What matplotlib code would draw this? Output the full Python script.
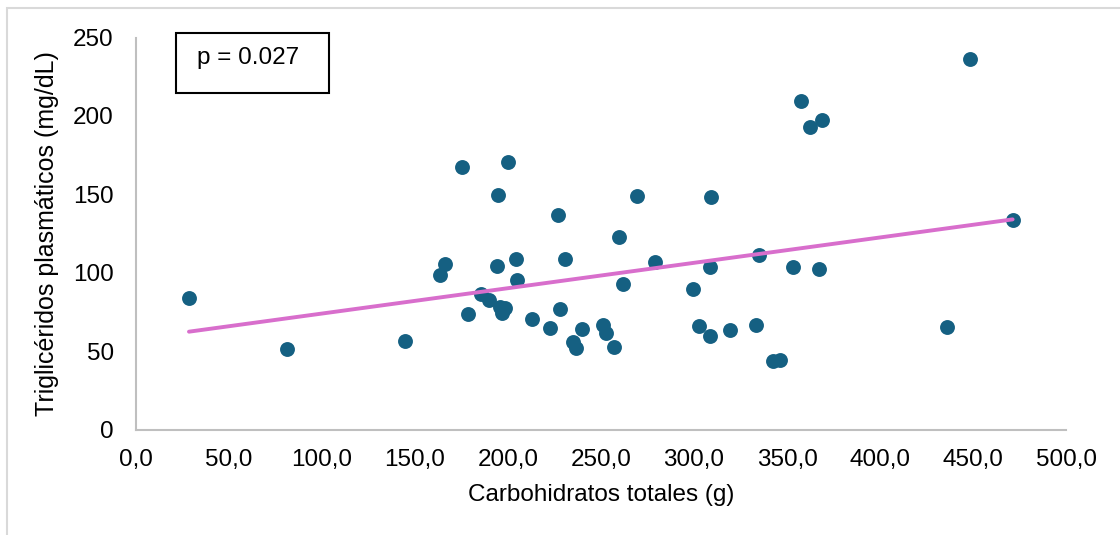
import numpy as np
import matplotlib as mpl
mpl.use("Agg")
import matplotlib.pyplot as plt
from matplotlib.patches import Rectangle

plt.rcParams['font.family'] = ['Liberation Sans', 'DejaVu Sans']

# carbohidratos totales (g) vs trigliceridos (mg/dL)
carbs = [28.5, 81.0, 144.4, 163.4, 166.1, 175.1, 178.3, 185.7, 190.0, 194.3,
         194.6, 195.5, 198.5, 197.0, 200.2, 204.3, 204.7, 212.7, 222.8, 226.7,
         228.0, 230.8, 235.1, 236.6, 239.8, 251.2, 252.5, 256.8, 259.7, 262.0,
         269.4, 279.2, 299.6, 302.9, 308.4, 308.8, 309.0, 319.4, 333.5, 335.0,
         342.3, 346.4, 353.2, 357.7, 362.5, 367.2, 368.8, 435.8, 448.4, 471.3]
trig = [84.1, 51.6, 56.9, 98.5, 105.5, 167.3, 73.7, 86.6, 82.8, 104.3,
        149.9, 78.5, 77.5, 74.3, 170.5, 109.1, 95.7, 70.9, 64.8, 136.8,
        76.9, 108.7, 56.2, 52.0, 64.1, 66.9, 62.0, 52.9, 123.1, 92.8,
        148.8, 107.2, 89.6, 66.2, 59.7, 103.6, 148.2, 63.9, 66.7, 111.5,
        43.7, 44.8, 103.8, 209.4, 193.0, 102.5, 197.3, 65.4, 236.1, 133.8]

x_ticks = [0, 50, 100, 150, 200, 250, 300, 350, 400, 450, 500]
x_tick_labels = ["0,0", "50,0", "100,0", "150,0", "200,0", "250,0",
                 "300,0", "350,0", "400,0", "450,0", "500,0"]
y_ticks = [0, 50, 100, 150, 200, 250]
p_text = "p = 0.027"

fig = plt.figure(figsize=(11.2, 5.35), dpi=100)
ax = fig.add_axes([0.1214, 0.1963, 0.8304, 0.7336])

# chart area border
fig.patches.append(Rectangle((7 / 1120, -0.1), 1.2, 1 - 8 / 535 + 0.1,
                             transform=fig.transFigure, fill=False,
                             edgecolor='#d9d9d9', lw=1.5))

ax.scatter(carbs, trig, s=115, color='#156082', zorder=3, linewidths=0)

# linear trendline
m, b = np.polyfit(carbs, trig, 1)
xl = np.array([min(carbs), max(carbs)])
ax.plot(xl, m * xl + b, color='#d86ecc', lw=2.8, zorder=4,
        solid_capstyle='round')

ax.set_xlim(0, 500)
ax.set_ylim(0, 250)
ax.set_xticks(x_ticks)
ax.set_xticklabels(x_tick_labels)
ax.set_yticks(y_ticks)
ax.tick_params(axis='both', length=0, labelsize=17.5)
ax.tick_params(axis='x', pad=14)
ax.tick_params(axis='y', pad=16)

for s in ['top', 'right']:
    ax.spines[s].set_visible(False)
for s in ['left', 'bottom']:
    ax.spines[s].set_color('#bfbfbf')
    ax.spines[s].set_linewidth(1.5)

ax.set_xlabel("Carbohidratos totales (g)", fontsize=17.5, labelpad=9)
ax.set_ylabel("Triglicéridos plasmáticos (mg/dL)", fontsize=18, labelpad=10)

# p-value box
ax.add_patch(Rectangle((0.043, 0.8586), 0.1645, 0.153, transform=ax.transAxes,
                       fill=False, edgecolor='black', lw=1.5, clip_on=False))
ax.text(0.0656, 0.948, p_text, transform=ax.transAxes, fontsize=17.5,
        va='center', ha='left')

fig.savefig("out.png", dpi=100)
